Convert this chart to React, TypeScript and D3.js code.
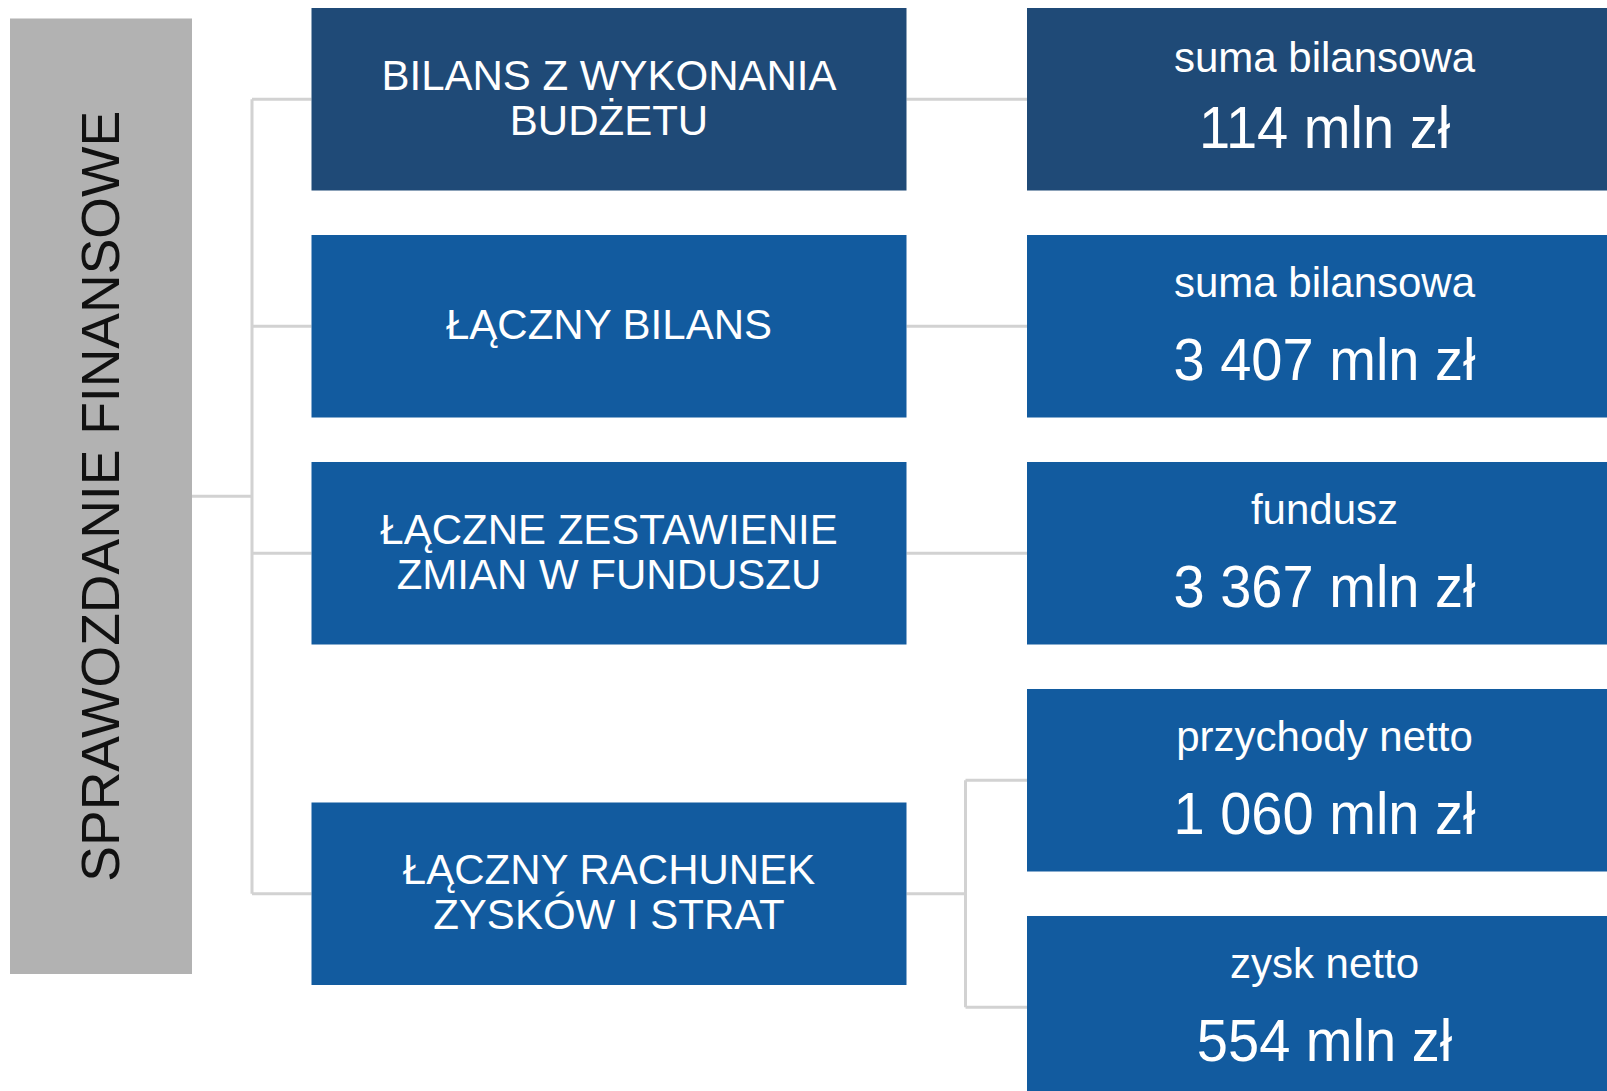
import { scaleBand, scaleLinear, formatLocale } from "d3";

// rows on the right, one per figure
const metricLabels = ["suma bilansowa", "suma bilansowa", "fundusz", "przychody netto", "zysk netto"];
const metricValues = [114, 3407, 3367, 1060, 554];
const metricParent = [0, 1, 2, 3, 3];

// statements in the middle column
const statements = [
  ["BILANS Z WYKONANIA", "BUDŻETU"],
  ["ŁĄCZNY BILANS"],
  ["ŁĄCZNE ZESTAWIENIE", "ZMIAN W FUNDUSZU"],
  ["ŁĄCZNY RACHUNEK", "ZYSKÓW I STRAT"],
];

const rootLabel = "SPRAWOZDANIE FINANSOWE";
const unit = "mln zł";

const W = 1607;
const H = 1091;
const FONT = "'Liberation Sans', Arial, sans-serif";
const DARK = "#1f4a77";
const BLUE = "#125b9f";
const GRAY = "#b2b2b2";
const LINE = "#d2d2d2";

const pl = formatLocale({ decimal: ",", thousands: " ", grouping: [3], currency: ["", " zł"] });
const fmt = pl.format(",d");

export default function App() {
  const rowY = scaleBand<number>()
    .domain(metricValues.map((_, i) => i))
    .range([8, 1098.5])
    .paddingInner(0.196);
  const bh = rowY.bandwidth();

  const colX = scaleLinear().domain([0, 1, 2]).range([311.5, 1027, 1742.5]);
  const bw = 595;
  const rootX = 10;
  const rootW = 182;
  const rootTop = 18.5;
  const rootBottom = 974;
  const rootCy = (rootTop + rootBottom) / 2;
  const trunkX = 252;

  const kidsOf = (si: number) =>
    metricParent.map((p, i) => (p === si ? i : -1)).filter((i) => i >= 0);

  // middle box y positions: centred on their children
  const midY = statements.map((_, si) => {
    const ys = kidsOf(si).map((i) => rowY(i) as number);
    return (Math.min(...ys) + Math.max(...ys)) / 2;
  });
  const midCy = midY.map((y) => y + bh / 2);

  const lineSpacing = 45;

  return (
    <svg
      width={W}
      height={H}
      style={{ position: "absolute", left: 0, top: 0, display: "block", background: "#fff" }}
      fontFamily={FONT}
    >
      {/* connectors */}
      <g stroke={LINE} strokeWidth={3} fill="none">
        <line x1={rootX + rootW} x2={trunkX} y1={rootCy} y2={rootCy} />
        <line x1={trunkX} x2={trunkX} y1={midCy[0]} y2={midCy[midCy.length - 1]} />
        {midCy.map((cy, i) => (
          <line key={`ml-${i}`} x1={trunkX} x2={colX(0)} y1={cy} y2={cy} />
        ))}
        {statements.map((_, si) => {
          const kids = kidsOf(si);
          const x0 = colX(0) + bw;
          const x1 = colX(1);
          if (kids.length === 1) {
            return <line key={`rl-${si}`} x1={x0} x2={x1} y1={midCy[si]} y2={midCy[si]} />;
          }
          const bx = 965.5;
          const cys = kids.map((i) => (rowY(i) as number) + bh / 2);
          return (
            <g key={`rl-${si}`}>
              <line x1={x0} x2={bx} y1={midCy[si]} y2={midCy[si]} />
              <line x1={bx} x2={bx} y1={cys[0]} y2={cys[cys.length - 1]} />
              {cys.map((cy, k) => (
                <line key={k} x1={bx} x2={x1} y1={cy} y2={cy} />
              ))}
            </g>
          );
        })}
      </g>

      {/* root box */}
      <rect x={rootX} y={rootTop} width={rootW} height={rootBottom - rootTop} fill={GRAY} />
      <text
        transform={`translate(${rootX + rootW / 2 + 18.3},${rootCy}) rotate(-90)`}
        textAnchor="middle"
        fontSize={53.5}
        fill="#111"
      >
        {rootLabel}
      </text>

      {/* statements */}
      {statements.map((lines, si) => {
        const y = midY[si];
        const cy = midCy[si];
        const first = cy - ((lines.length - 1) * lineSpacing) / 2 - 2;
        return (
          <g key={`st-${si}`}>
            <rect x={colX(0)} y={y} width={bw} height={bh} fill={si === 0 ? DARK : BLUE} />
            {lines.map((ln, k) => (
              <text
                key={k}
                x={colX(0) + bw / 2}
                y={first + k * lineSpacing + 15}
                textAnchor="middle"
                fontSize={42}
                fill="#fff"
              >
                {ln}
              </text>
            ))}
          </g>
        );
      })}

      {/* figures */}
      {metricValues.map((v, i) => {
        const y = rowY(i) as number;
        const budget = metricParent[i] === 0;
        const cx = colX(1) + bw / 2;
        return (
          <g key={`mv-${i}`}>
            <rect x={colX(1)} y={y} width={bw} height={bh} fill={budget ? DARK : BLUE} />
            <text x={cx} y={y + (budget ? 64 : 62)} textAnchor="middle" fontSize={42} fill="#fff">
              {metricLabels[i]}
            </text>
            <text
              transform={`translate(${cx},${y + (budget ? 140 : 145)}) scale(0.95,1)`}
              textAnchor="middle"
              fontSize={59}
              fill="#fff"
            >
              {`${fmt(v)} ${unit}`}
            </text>
          </g>
        );
      })}
    </svg>
  );
}
